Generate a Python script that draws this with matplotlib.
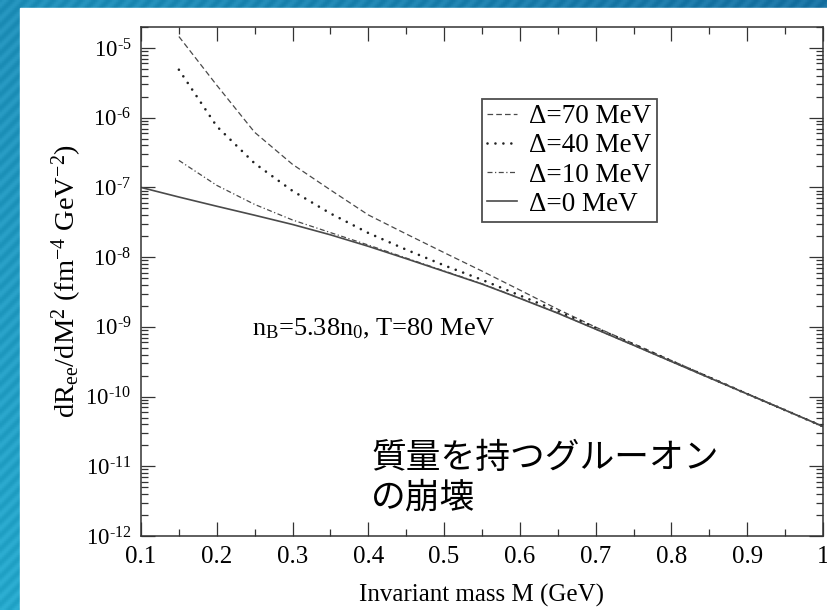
import matplotlib
matplotlib.use("Agg")
import matplotlib.pyplot as plt
import numpy as np
from matplotlib.ticker import LogLocator, FuncFormatter, FixedLocator, NullFormatter

plt.rcParams['font.family'] = ['Liberation Serif', 'DejaVu Serif']
plt.rcParams['mathtext.fontset'] = 'custom'
plt.rcParams['mathtext.rm'] = 'Liberation Serif'
plt.rcParams['mathtext.it'] = 'Liberation Serif:italic'

# Invariant mass (GeV) and dilepton rates
mass = [0.15, 0.2, 0.25, 0.3, 0.35, 0.4, 0.45, 0.5, 0.55, 0.6, 0.65, 0.7,
        0.75, 0.8, 0.85, 0.9, 0.95, 1.0]
mass_0 = [0.1] + mass

rate_70 = [1.46e-5, 2.92e-6, 6.17e-7, 2.14e-7, 9.2e-8, 4.03e-8, 2.15e-8, 1.16e-8,
           6.31e-9, 3.37e-9, 1.79e-9, 9.9e-10, 5.74e-10, 3.29e-10, 1.91e-10,
           1.10e-10, 6.42e-11, 3.73e-11]
rate_40 = [4.88e-6, 7.52e-7, 2.21e-7, 8.91e-8, 4.23e-8, 2.22e-8, 1.28e-8, 7.62e-9,
           4.73e-9, 2.82e-9, 1.68e-9, 9.68e-10, 5.58e-10, 3.24e-10, 1.88e-10,
           1.09e-10, 6.38e-11, 3.73e-11]
rate_10 = [2.44e-7, 1.07e-7, 5.70e-8, 3.41e-8, 2.25e-8, 1.49e-8, 9.7e-9, 6.34e-9,
           4.15e-9, 2.58e-9, 1.58e-9, 9.27e-10, 5.45e-10, 3.18e-10, 1.86e-10,
           1.09e-10, 6.38e-11, 3.73e-11]
rate_0 = [1.0e-7, 7.28e-8, 5.37e-8, 3.99e-8, 2.94e-8, 2.09e-8, 1.43e-8, 9.5e-9,
          6.25e-9, 4.11e-9, 2.56e-9, 1.57e-9, 9.27e-10, 5.45e-10, 3.18e-10,
          1.86e-10, 1.09e-10, 6.38e-11, 3.73e-11]

labels = ['Δ=70 MeV', 'Δ=40 MeV', 'Δ=10 MeV', 'Δ=0 MeV']
xtick_vals = [0.1, 0.2, 0.3, 0.4, 0.5, 0.6, 0.7, 0.8, 0.9, 1.0]
xtick_text = ['0.1', '0.2', '0.3', '0.4', '0.5', '0.6', '0.7', '0.8', '0.9', '1']

fig = plt.figure(figsize=(8.28, 6.10), dpi=100)

# slide background: blue gradient frame with white panel
bg = fig.add_axes([0, 0, 1, 1])
gx, gy = np.meshgrid(np.linspace(0, 1, 400), np.linspace(0, 1, 300))
grad = 0.55 * gx + 0.45 * (1 - gy)
stripes = 0.03 * np.sin((gx * 828 + gy * 610) / 2.2)
c0 = np.array([0.15, 0.66, 0.80])
c1 = np.array([0.10, 0.45, 0.64])
img = c0[None, None, :] * (1 - grad[..., None]) + c1[None, None, :] * grad[..., None]
img = np.clip(img + stripes[..., None], 0, 1)
bg.imshow(img, extent=[0, 1, 0, 1], aspect='auto', origin='upper')
bg.add_patch(plt.Rectangle((20 / 828, 0), 1, 1 - 8 / 610, color='white'))
bg.set_xlim(0, 1)
bg.set_ylim(0, 1)
bg.axis('off')

ax = fig.add_axes([141 / 828, 1 - 536 / 610, 682 / 828, 509 / 610])
line_col = '#4a4a4a'
ax.plot(mass, rate_70, color=line_col, lw=0.9, linestyle=(0, (4.5, 2.5)), label=labels[0])
ax.plot(mass, rate_40, color='#222222', lw=1.9, linestyle=(0, (0.01, 3.0)),
        dash_capstyle='round', label=labels[1])
ax.plot(mass, rate_10, color=line_col, lw=0.9, linestyle=(0, (4.0, 2.0, 1.0, 2.0)), label=labels[2])
ax.plot(mass_0, rate_0, color=line_col, lw=1.2, label=labels[3])

ax.set_yscale('log')
ax.set_xlim(0.1, 1.0)
ax.set_ylim(1e-12, 2e-5)


def pow_label(v, pos):
    e = int(round(np.log10(v)))
    return r'$10^{\text{-}%d}$' % (-e)


ax.xaxis.set_major_locator(FixedLocator(xtick_vals))
ax.set_xticklabels(xtick_text)
ax.xaxis.set_minor_locator(FixedLocator(np.arange(0.15, 1.0, 0.1)))
ax.yaxis.set_major_locator(LogLocator(base=10, numticks=20))
ax.yaxis.set_major_formatter(FuncFormatter(pow_label))
ax.yaxis.set_minor_locator(LogLocator(base=10, subs=np.arange(2, 10), numticks=100))
ax.yaxis.set_minor_formatter(NullFormatter())

ax.tick_params(which='both', direction='in', top=True, right=True, color='#333333',
               labelsize=18, width=0.9)
ax.tick_params(axis='y', labelsize=16.5)
ax.tick_params(which='major', length=10)
ax.tick_params(which='minor', length=5)
ax.tick_params(axis='x', pad=7)
ax.tick_params(axis='y', pad=7)
for sp in ax.spines.values():
    sp.set_linewidth(1.1)
    sp.set_color('#333333')

ax.set_xlabel('Invariant mass M (GeV)', fontsize=18, labelpad=12)
ax.set_ylabel(r'dR$_{\rm ee}$/dM$^2$ (fm$^{-4}$ GeV$^{-2}$)', fontsize=20.5)
ax.yaxis.set_label_coords(-0.083, 0.5)

leg = ax.legend(loc='upper left', bbox_to_anchor=((481.7 - 141) / 682, (536 - 99) / 509),
                borderaxespad=0, fontsize=19.5, frameon=True, fancybox=False,
                handlelength=1.1, handletextpad=0.45, labelspacing=0.15,
                borderpad=0.2)
leg.get_frame().set_edgecolor('#222222')
leg.get_frame().set_linewidth(1.3)

ax.text((251.7 - 141) / 682, (536 - 335) / 509, r'n$_{\rm B}$=5.38n$_0$, T=80 MeV',
        transform=ax.transAxes, fontsize=19, va='baseline', ha='left')

fig.text(371 / 828, 1 - 478 / 610, '質量を持つグルーオン\nの崩壊', fontsize=25,
         family=['Noto Sans CJK JP', 'DejaVu Sans'], ha='left', va='center',
         linespacing=1.15)

fig.savefig('out.png', dpi=100)
